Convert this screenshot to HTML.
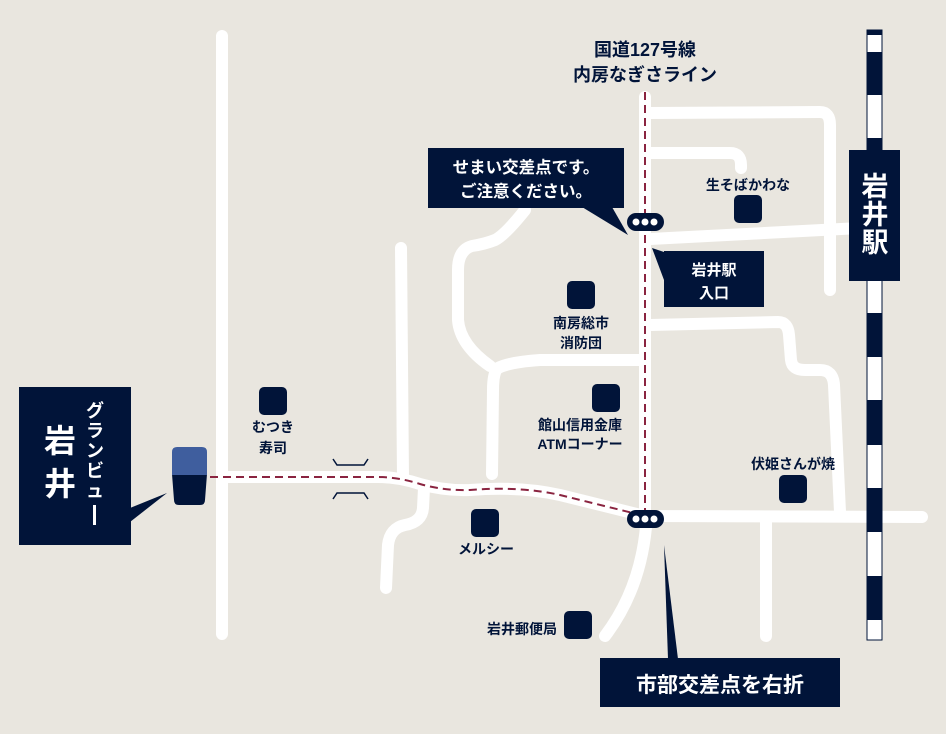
<!DOCTYPE html>
<html><head><meta charset="utf-8"><style>
html,body{margin:0;padding:0;background:#e9e6df;}
svg{display:block;}
text{font-family:"Liberation Sans","Noto Sans CJK JP",sans-serif;font-weight:bold;}
</style></head><body>
<svg width="946" height="734" viewBox="0 0 946 734" xmlns="http://www.w3.org/2000/svg">
<rect width="946" height="734" fill="#e9e6df"/>
<g fill="none" stroke="#fff" stroke-width="12" stroke-linecap="round" stroke-linejoin="round">
<line x1="222" y1="36" x2="222" y2="634"/>
<path d="M222 477 L378 477 Q398 477 420 484 Q445 491 470 490 Q520 486 560 495 L645 516 L922 517"/>
<line x1="401" y1="248" x2="403" y2="478"/>
<path d="M424 488 L423 508 Q422 522 405 525 Q390 528 388 545 L386 588"/>
<line x1="645" y1="97" x2="645" y2="516"/>
<path d="M646 527 Q640 590 605 636"/>
<line x1="766" y1="520" x2="766" y2="636"/>
<path d="M650 325 L778 322 Q788 322 789 335 L791 360 Q792 370 805 370 L820 370 Q833 370 834 385 L840 512"/>
<path d="M640 360 L540 360 Q510 362 498 368 Q493 372 493 390 L492 474"/>
<path d="M525 210 Q505 235 495 240 Q485 244 472 246 Q458 250 458 270 L458 320 Q460 345 490 366"/>
<path d="M650 113 L820 112 Q830 112 830 125 L830 290"/>
<path d="M650 153 L730 153 Q741 153 741 165 L741 168"/>
<path d="M650 239 L860 228"/>
</g>
<!-- bridge marks -->
<g stroke="#011439" stroke-width="1.5" fill="none">
<path d="M333 459 L337 465 L364 465 L368 459"/>
<path d="M333 499 L337 493 L364 493 L368 499"/>
</g>
<!-- dashed route -->
<g fill="none" stroke="#8a2440" stroke-width="2" stroke-dasharray="8,5">
<path d="M210 477 L378 477 Q398 477 420 484 Q445 491 470 490 Q520 486 560 495 L645 516"/>
<line x1="645" y1="92" x2="645" y2="516"/>
</g>
<!-- rail -->
<rect x="867" y="30" width="15" height="610" fill="#fff" stroke="#011439" stroke-width="1"/>
<g fill="#011439">
<rect x="867" y="30" width="15" height="5"/>
<rect x="867" y="52" width="15" height="43"/>
<rect x="867" y="138" width="15" height="43"/>
<rect x="867" y="225" width="15" height="43"/>
<rect x="867" y="313" width="15" height="44"/>
<rect x="867" y="400" width="15" height="45"/>
<rect x="867" y="488" width="15" height="44"/>
<rect x="867" y="576" width="15" height="44"/>
</g>
<rect x="849" y="150" width="51" height="131" fill="#011439"/>
<text x="875" y="196" fill="#fff" font-size="27" text-anchor="middle">岩</text>
<text x="875" y="224" fill="#fff" font-size="27" text-anchor="middle">井</text>
<text x="875" y="252" fill="#fff" font-size="27" text-anchor="middle">駅</text>
<!-- titles -->
<text x="645" y="56" fill="#011439" font-size="18" text-anchor="middle">国道127号線</text>
<text x="645" y="81" fill="#011439" font-size="18" text-anchor="middle">内房なぎさライン</text>
<!-- callouts -->
<g fill="#011439">
<rect x="428" y="148" width="196" height="60"/>
<polygon points="582,207 612,207 628,235"/>
<text x="526" y="173" fill="#fff" font-size="16.5" text-anchor="middle">せまい交差点です。</text>
<text x="526" y="197" fill="#fff" font-size="16.5" text-anchor="middle">ご注意ください。</text>
<rect x="664" y="251" width="100" height="56"/>
<polygon points="652,248 664,252 664,280"/>
<text x="714" y="275" fill="#fff" font-size="15" text-anchor="middle">岩井駅</text>
<text x="714" y="298" fill="#fff" font-size="15" text-anchor="middle">入口</text>
<rect x="600" y="658" width="240" height="49"/>
<polygon points="664,545 678,659 668,659"/>
<text x="720" y="692" fill="#fff" font-size="21" text-anchor="middle">市部交差点を右折</text>
<rect x="19" y="387" width="112" height="158"/>
<polygon points="130,508 130,522 167,493"/>
<text x="60" y="452" fill="#fff" font-size="32" text-anchor="middle">岩</text>
<text x="60" y="495" fill="#fff" font-size="32" text-anchor="middle">井</text>
<g font-size="18" fill="#fff" text-anchor="middle">
<text x="95" y="417">グ</text><text x="95" y="437">ラ</text><text x="95" y="457">ン</text><text x="95" y="477">ビ</text><text x="95" y="497">ュ</text>
</g>
<rect x="93" y="505" width="3" height="20" fill="#fff"/>
</g>
<!-- hotel -->
<path d="M172 474 L207 474 L205 500 Q205 505 200 505 L179 505 Q174 505 174 500 Z" fill="#011439"/>
<path d="M172 452 Q172 447 177 447 L202 447 Q207 447 207 452 L207 475 L172 475 Z" fill="#3f5e9e"/>
<!-- intersections -->
<g fill="#011439"><rect x="627" y="213" width="37" height="18" rx="9"/><rect x="627" y="510" width="37" height="18" rx="9"/></g>
<g fill="#fff"><circle cx="636" cy="222" r="3.5"/><circle cx="645" cy="222" r="3.5"/><circle cx="654" cy="222" r="3.5"/>
<circle cx="636" cy="519" r="3.5"/><circle cx="645" cy="519" r="3.5"/><circle cx="654" cy="519" r="3.5"/></g>
<!-- POIs -->
<g fill="#011439">
<rect x="734" y="195" width="28" height="28" rx="5"/>
<rect x="567" y="281" width="28" height="28" rx="5"/>
<rect x="592" y="384" width="28" height="28" rx="5"/>
<rect x="779" y="475" width="28" height="28" rx="5"/>
<rect x="471" y="509" width="28" height="28" rx="5"/>
<rect x="564" y="611" width="28" height="28" rx="5"/>
<rect x="259" y="387" width="28" height="28" rx="5"/>
</g>
<g fill="#011439" font-size="14" text-anchor="middle">
<text x="748" y="190">生そばかわな</text>
<text x="581" y="328">南房総市</text>
<text x="581" y="348">消防団</text>
<text x="580" y="430">館山信用金庫</text>
<text x="580" y="449">ATMコーナー</text>
<text x="793" y="469">伏姫さんが焼</text>
<text x="486" y="554">メルシー</text>
<text x="557" y="634" text-anchor="end">岩井郵便局</text>
<text x="273" y="432">むつき</text>
<text x="273" y="453">寿司</text>
</g>
</svg>
</body></html>
